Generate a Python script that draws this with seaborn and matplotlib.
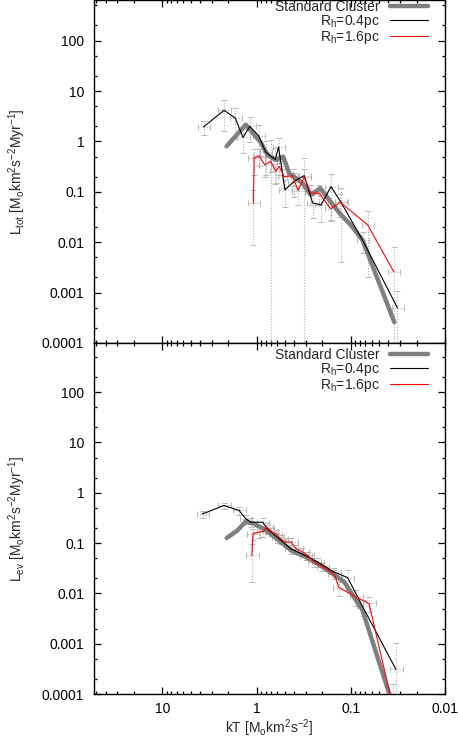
import numpy as np
import pandas as pd
import seaborn as sns
import matplotlib.pyplot as plt
from matplotlib.ticker import LogLocator, NullFormatter, FixedLocator, FixedFormatter

# ---- top panel (L_tot) ----
std_top_x = [2.08, 1.3, 0.9, 0.764, 0.624, 0.521, 0.451, 0.40, 0.325, 0.265, 0.211, 0.16, 0.127, 0.10, 0.075, 0.0345]
std_top_y = [0.8, 2.15, 0.95, 0.54, 0.43, 0.5, 0.235, 0.2, 0.149, 0.087, 0.118, 0.06, 0.035, 0.022, 0.011, 0.00026]

r04_top_x = [3.65, 2.21, 1.68, 1.39, 1.18, 0.95, 0.80, 0.70, 0.63, 0.584, 0.50, 0.40, 0.312, 0.254, 0.206, 0.162, 0.127, 0.075, 0.032]
r04_top_y = [1.94, 4.14, 2.9, 1.2, 1.99, 1.3, 0.62, 0.50, 0.44, 0.78, 0.11, 0.16, 0.21, 0.06, 0.055, 0.127, 0.062, 0.011, 0.0005]
r04_top_e = [0.6, 2.5, 1.8, 0.6, 1.0, 0.8, 0.4, 0.55, 0.3, 0.4, 0.06, 0.08, 0.25, 0.03, 0.03, 0.1, 0.058, 0.005, 0.0006]

r16_top_x = [1.08, 1.06, 0.94, 0.817, 0.705, 0.624, 0.575, 0.509, 0.415, 0.362, 0.312, 0.265, 0.216, 0.163, 0.129, 0.066, 0.035]
r16_top_y = [0.059, 0.467, 0.52, 0.344, 0.40, 0.253, 0.318, 0.201, 0.208, 0.106, 0.2, 0.094, 0.094, 0.046, 0.062, 0.022, 0.0026]
r16_top_e = [0.05, 0.25, 0.2, 0.15, 0.15, 0.1, 0.1, 0.08, 0.08, 0.05, 0.08, 0.04, 0.04, 0.02, 0.03, 0.02, 0.0055]

# ---- bottom panel (L_ev) ----
std_bot_x = [2.07, 1.59, 1.3, 1.06, 0.83, 0.6, 0.432, 0.3, 0.225, 0.156, 0.117, 0.075, 0.0375]
std_bot_y = [0.126, 0.179, 0.27, 0.24, 0.19, 0.12, 0.072, 0.053, 0.039, 0.0247, 0.0168, 0.0046, 0.00008]

r04_bot_x = [3.74, 2.21, 1.53, 1.3, 1.15, 0.86, 0.764, 0.6, 0.432, 0.3, 0.225, 0.15, 0.108, 0.075, 0.0332]
r04_bot_y = [0.38, 0.56, 0.445, 0.305, 0.26, 0.26, 0.19, 0.13, 0.077, 0.056, 0.042, 0.0266, 0.0206, 0.0055, 0.00031]
r04_bot_e = [0.06, 0.08, 0.08, 0.06, 0.05, 0.05, 0.04, 0.03, 0.015, 0.01, 0.008, 0.005, 0.009, 0.002, 0.0007]

r16_bot_x = [1.12, 1.09, 0.94, 0.85, 0.78, 0.70, 0.624, 0.55, 0.49, 0.43, 0.38, 0.33, 0.287, 0.245, 0.2, 0.15, 0.133, 0.088, 0.064, 0.036]
r16_bot_y = [0.057, 0.154, 0.165, 0.17, 0.21, 0.17, 0.154, 0.12, 0.105, 0.105, 0.077, 0.068, 0.057, 0.042, 0.034, 0.024, 0.013, 0.0085, 0.0063, 0.00006]
r16_bot_e = [0.04, 0.04, 0.04, 0.04, 0.04, 0.03, 0.03, 0.025, 0.02, 0.02, 0.015, 0.012, 0.01, 0.008, 0.006, 0.005, 0.004, 0.003, 0.002, 0.0001]

ytick_vals = [1e-4, 1e-3, 1e-2, 1e-1, 1, 10, 100]
ytick_labels = ['0.0001', '0.001', '0.01', '0.1', '1', '10', '100']
xtick_vals = [10, 1, 0.1, 0.01]
xtick_labels = ['10', '1', '0.1', '0.01']

sns.set_theme(style='ticks')
plt.rcParams['font.family'] = ['Liberation Sans', 'DejaVu Sans']
plt.rcParams['mathtext.fontset'] = 'custom'
plt.rcParams['mathtext.rm'] = 'Liberation Sans'
plt.rcParams['mathtext.it'] = 'Liberation Sans:italic'

fig = plt.figure(figsize=(4.58, 7.38), dpi=100)
ax1 = fig.add_axes([94 / 458, 1 - 343 / 738, 351 / 458, 343 / 738])
ax2 = fig.add_axes([94 / 458, 1 - 694 / 738, 351 / 458, 351 / 738])

XERR_FRAC = 0.15


def errs(ax, x, y, e):
    x = np.array(x)
    eb = ax.errorbar(x, y, yerr=e, xerr=XERR_FRAC * x, fmt='none', ecolor='#b0b0b0',
                     elinewidth=0.8, capsize=2, capthick=0.6, zorder=1)
    for c in eb[2]:
        c.set_linestyle((0, (1, 1.5)))


def panel(ax, sx, sy, bx, by, be, rx, ry, re, top, leg_y):
    errs(ax, bx, by, be)
    errs(ax, rx, ry, re)
    sns.lineplot(x=sx, y=sy, ax=ax, color='#7f7f7f', lw=3.2, sort=False,
                 label='Standard Cluster', zorder=3)
    sns.lineplot(x=bx, y=by, ax=ax, color='black', lw=0.8, sort=False,
                 label=r'R$_{\rm h}$=0.4pc', zorder=4)
    sns.lineplot(x=rx, y=ry, ax=ax, color='red', lw=0.8, sort=False,
                 label=r'R$_{\rm h}$=1.6pc', zorder=4)
    ax.set_xscale('log')
    ax.set_yscale('log')
    ax.set_xlim(53, 0.01)
    ax.set_ylim(1e-4, top)
    ax.yaxis.set_major_locator(FixedLocator(ytick_vals))
    ax.yaxis.set_major_formatter(FixedFormatter(ytick_labels))
    ax.yaxis.set_minor_locator(LogLocator(base=10, subs=(2, 5), numticks=20))
    ax.yaxis.set_minor_formatter(NullFormatter())
    ax.xaxis.set_major_locator(FixedLocator(xtick_vals))
    ax.xaxis.set_major_formatter(FixedFormatter(xtick_labels))
    ax.xaxis.set_minor_locator(LogLocator(base=10, subs=np.arange(2, 10), numticks=20))
    ax.xaxis.set_minor_formatter(NullFormatter())
    ax.tick_params(which='both', direction='in', top=True, right=True, labelsize=10,
                   colors='black', width=0.9)
    ax.tick_params(which='major', length=5)
    ax.tick_params(which='minor', length=2.5)
    ax.tick_params(axis='y', pad=7)
    ax.tick_params(axis='x', pad=6)
    for s in ax.spines.values():
        s.set_linewidth(1.0)
        s.set_color('black')
    leg = ax.legend(loc='upper right', bbox_to_anchor=(0.9516, leg_y), frameon=False,
                    markerfirst=False, fontsize=10, handlelength=2.75,
                    labelspacing=-0.08, borderaxespad=0, borderpad=0,
                    handletextpad=0.7)
    return leg


panel(ax1, std_top_x, std_top_y, r04_top_x, r04_top_y, r04_top_e,
      r16_top_x, r16_top_y, r16_top_e, 640, 1.0)
panel(ax2, std_bot_x, std_bot_y, r04_bot_x, r04_bot_y, r04_bot_e,
      r16_bot_x, r16_bot_y, r16_bot_e, 950, 0.985)

ax1.tick_params(axis='x', labelbottom=False)
ax1.set_ylabel(r'L$_{\rm tot}$ [M$_{\rm o}$km$^2$s$^{-2}$Myr$^{-1}$]', fontsize=10, labelpad=10)
ax2.set_ylabel(r'L$_{\rm ev}$ [M$_{\rm o}$km$^2$s$^{-2}$Myr$^{-1}$]', fontsize=10, labelpad=10)
ax2.set_xlabel(r'kT [M$_{\rm o}$km$^2$s$^{-2}$]', fontsize=10, labelpad=1)

fig.savefig('out.png', dpi=100)
